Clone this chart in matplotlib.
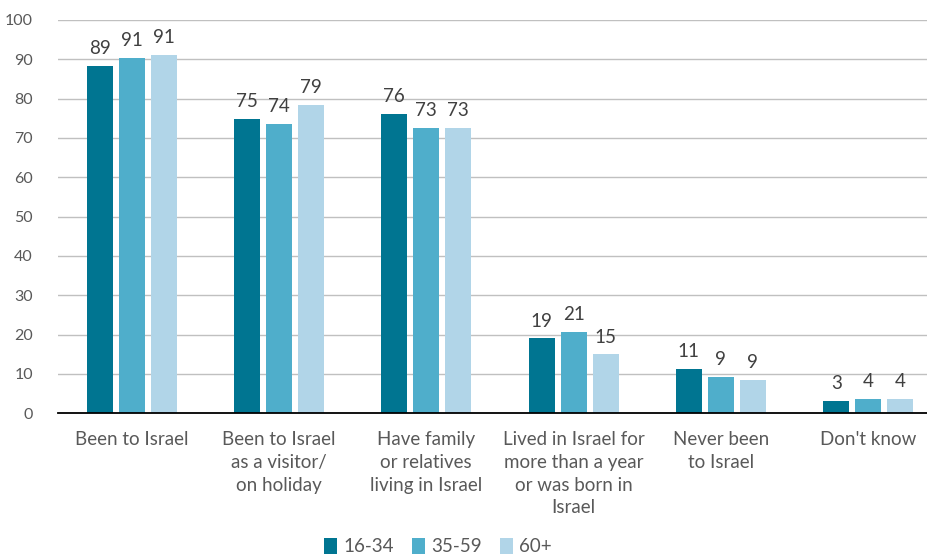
import numpy as np
import matplotlib.pyplot as plt

plt.rcParams["font.family"] = ["Lato", "DejaVu Sans"]

categories = [
    "Been to Israel",
    "Been to Israel\nas a visitor/\non holiday",
    "Have family\nor relatives\nliving in Israel",
    "Lived in Israel for\nmore than a year\nor was born in\nIsrael",
    "Never been\nto Israel",
    "Don't know",
]
groups = ["16-34", "35-59", "60+"]
values_16_34 = [88.3, 74.9, 76.2, 19.1, 11.3, 3.2]
values_35_59 = [90.3, 73.6, 72.6, 20.7, 9.2, 3.6]
values_60_plus = [91.2, 78.5, 72.6, 15.0, 8.5, 3.6]
labels_16_34 = [89, 75, 76, 19, 11, 3]
labels_35_59 = [91, 74, 73, 21, 9, 4]
labels_60_plus = [91, 79, 73, 15, 9, 4]
colors = ["#007591", "#4FAECB", "#B1D5E8"]

series = [values_16_34, values_35_59, values_60_plus]
labels = [labels_16_34, labels_35_59, labels_60_plus]

fig = plt.figure(figsize=(9.28, 5.54), dpi=100)
ax = fig.add_axes([0.0625, 0.254, 0.9375, 0.710])

x = np.arange(len(categories))
step = 0.217
width = 0.177
text_color = "#595959"

for i, (vals, labs) in enumerate(zip(series, labels)):
    pos = x + (i - 1) * step
    ax.bar(pos, vals, width=width, color=colors[i], label=groups[i], zorder=3)
    for px, v, lab in zip(pos, vals, labs):
        ax.text(px, v + 2.2, str(lab), ha="center", va="bottom",
                fontsize=13.5, color="#404040")

ax.set_ylim(0, 100)
ax.set_xlim(-0.5, 5.406)
ax.set_yticks(range(0, 101, 10))
ax.set_xticks(x)
ax.set_xticklabels(categories, fontsize=13.5, color=text_color, linespacing=1.4)
ax.tick_params(axis="y", length=0, pad=18, labelsize=11.5, labelcolor=text_color)
ax.tick_params(axis="x", length=0, pad=13)
ax.grid(axis="y", color="#C0C0C0", linewidth=1, zorder=0)
for s in ["top", "right", "left"]:
    ax.spines[s].set_visible(False)
ax.spines["bottom"].set_color("black")
ax.spines["bottom"].set_linewidth(1.3)
ax.spines["bottom"].set_zorder(4)

fig.legend(loc="center", bbox_to_anchor=(0.472, 0.013), ncol=3, frameon=False,
           fontsize=13.5, handlelength=0.7, handleheight=0.9, handletextpad=0.3,
           columnspacing=1.0, labelcolor=text_color)

fig.savefig("out.png", dpi=100)
